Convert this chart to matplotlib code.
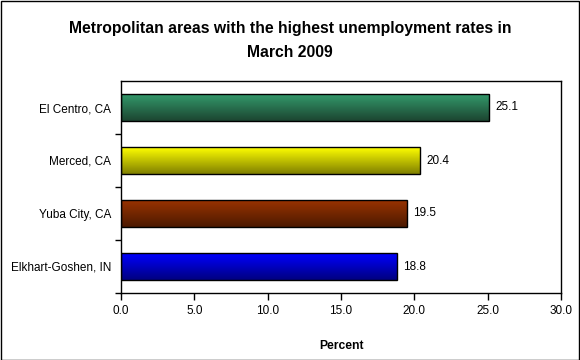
import matplotlib
matplotlib.use("Agg")
import matplotlib.pyplot as plt
import numpy as np
from matplotlib.patches import Rectangle

plt.rcParams['font.family'] = ['Liberation Sans', 'DejaVu Sans']

categories = ["El Centro, CA", "Merced, CA", "Yuba City, CA", "Elkhart-Goshen, IN"]
values = [25.1, 20.4, 19.5, 18.8]
top_colors = [(0.20, 0.60, 0.42), (1.0, 1.0, 0.0), (0.60, 0.20, 0.0), (0.0, 0.0, 1.0)]
bot_colors = [(0.11, 0.27, 0.19), (0.50, 0.50, 0.0), (0.30, 0.10, 0.0), (0.0, 0.0, 0.50)]
xticks = [0, 5, 10, 15, 20, 25, 30]
title = "Metropolitan areas with the highest unemployment rates in\nMarch 2009"
xlabel = "Percent"

W, H = 580, 360
fig = plt.figure(figsize=(W/100, H/100), dpi=100)
ax = fig.add_axes([121/W, 1 - 293/H, (561-121)/W, (293-81)/H])

bh = 0.5
fs = 8.5
for i, (v, tc, bc) in enumerate(zip(values, top_colors, bot_colors)):
    t = np.linspace(0, 1, 64)[:, None]
    grad = np.array(tc)[None, None, :] * (1 - t[..., None]) + np.array(bc)[None, None, :] * t[..., None]
    grad = np.repeat(grad, 2, axis=1)
    ax.imshow(grad, extent=[0, v, i + bh/2, i - bh/2], aspect='auto', zorder=2, interpolation='bilinear')
    ax.add_patch(Rectangle((0, i - bh/2), v, bh, fill=False, edgecolor='black', lw=1.0, zorder=3))
    ax.text(v + 0.4, i, f"{v:.1f}", va='center', ha='left', fontsize=fs, zorder=4)

ax.set_xlim(0, 30)
ax.set_ylim(len(categories) - 0.5, -0.5)
ax.set_xticks(xticks)
ax.set_xticklabels([f"{x:.1f}" for x in xticks], fontsize=fs)
ax.set_yticks(np.arange(0.5, len(categories) + 0.5), minor=False)
ax.set_yticklabels([])
ax.set_yticks(np.arange(len(categories)), minor=True)
ax.set_yticklabels(categories, minor=True, fontsize=fs)
ax.tick_params(axis='y', which='minor', length=0, pad=7)
ax.tick_params(axis='y', which='major', length=4, direction='out', width=1)
ax.tick_params(axis='x', length=5, direction='out', width=1, pad=3.5)
for s in ax.spines.values():
    s.set_linewidth(1.0)
ax.set_xlabel(xlabel, fontsize=8.7, fontweight='bold', labelpad=17)

fig.text(0.5, 1 - 40.5/H, title, ha='center', va='center', fontsize=11.3, fontweight='bold', linespacing=1.7)

fig.add_artist(Rectangle((0.5/W, 0.5/H), (W-1.5)/W, (H-1.5)/H, transform=fig.transFigure,
                         fill=False, edgecolor='black', lw=1.0))

fig.savefig("out.png", dpi=100)
